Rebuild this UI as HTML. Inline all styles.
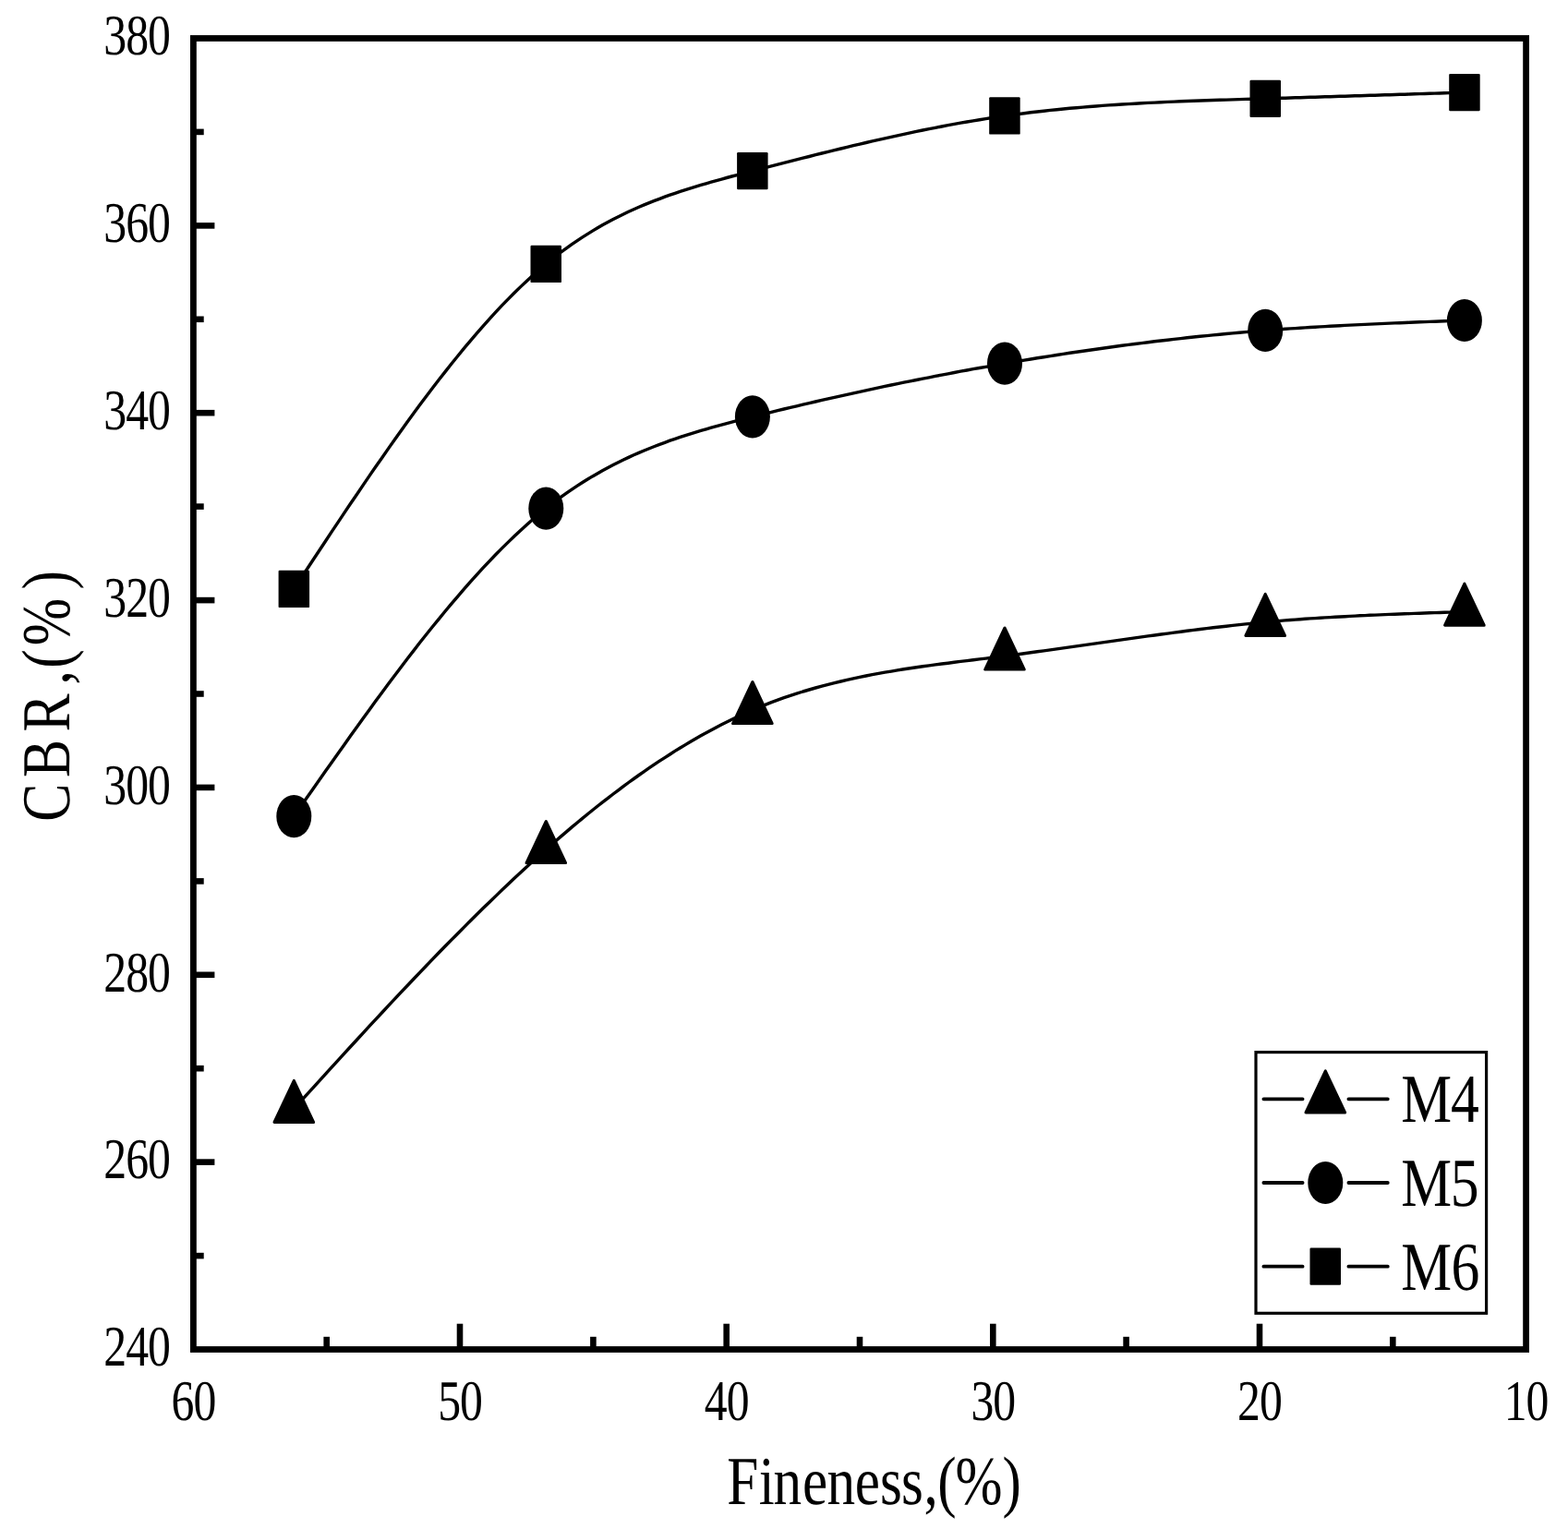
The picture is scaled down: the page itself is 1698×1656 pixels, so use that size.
<!DOCTYPE html>
<html lang="en"><head><meta charset="utf-8"><title>CBR vs Fineness</title>
<style>html,body{margin:0;padding:0;background:#fff;overflow:hidden}svg{display:block}text{font-family:"Liberation Serif","DejaVu Serif",serif;fill:#000;text-rendering:geometricPrecision}</style>
</head><body>
<svg width="1698" height="1656" viewBox="0 0 1698 1656">
<rect x="0" y="0" width="1698" height="1656" fill="#fff"/>
<rect x="209.4" y="41.5" width="1443.2" height="1420.0" fill="none" stroke="#000" stroke-width="6.8"/>
<line x1="209.4" y1="1360.1" x2="220.7" y2="1360.1" stroke="#000" stroke-width="6.6"/>
<line x1="209.4" y1="1258.6" x2="232.4" y2="1258.6" stroke="#000" stroke-width="6.6"/>
<line x1="209.4" y1="1157.2" x2="220.7" y2="1157.2" stroke="#000" stroke-width="6.6"/>
<line x1="209.4" y1="1055.8" x2="232.4" y2="1055.8" stroke="#000" stroke-width="6.6"/>
<line x1="209.4" y1="954.4" x2="220.7" y2="954.4" stroke="#000" stroke-width="6.6"/>
<line x1="209.4" y1="852.9" x2="232.4" y2="852.9" stroke="#000" stroke-width="6.6"/>
<line x1="209.4" y1="751.5" x2="220.7" y2="751.5" stroke="#000" stroke-width="6.6"/>
<line x1="209.4" y1="650.1" x2="232.4" y2="650.1" stroke="#000" stroke-width="6.6"/>
<line x1="209.4" y1="548.6" x2="220.7" y2="548.6" stroke="#000" stroke-width="6.6"/>
<line x1="209.4" y1="447.2" x2="232.4" y2="447.2" stroke="#000" stroke-width="6.6"/>
<line x1="209.4" y1="345.8" x2="220.7" y2="345.8" stroke="#000" stroke-width="6.6"/>
<line x1="209.4" y1="244.4" x2="232.4" y2="244.4" stroke="#000" stroke-width="6.6"/>
<line x1="209.4" y1="142.9" x2="220.7" y2="142.9" stroke="#000" stroke-width="6.6"/>
<line x1="1508.3" y1="1461.5" x2="1508.3" y2="1447.8" stroke="#000" stroke-width="6.6"/>
<line x1="1364.0" y1="1461.5" x2="1364.0" y2="1433.7" stroke="#000" stroke-width="6.6"/>
<line x1="1219.6" y1="1461.5" x2="1219.6" y2="1447.8" stroke="#000" stroke-width="6.6"/>
<line x1="1075.3" y1="1461.5" x2="1075.3" y2="1433.7" stroke="#000" stroke-width="6.6"/>
<line x1="931.0" y1="1461.5" x2="931.0" y2="1447.8" stroke="#000" stroke-width="6.6"/>
<line x1="786.7" y1="1461.5" x2="786.7" y2="1433.7" stroke="#000" stroke-width="6.6"/>
<line x1="642.4" y1="1461.5" x2="642.4" y2="1447.8" stroke="#000" stroke-width="6.6"/>
<line x1="498.0" y1="1461.5" x2="498.0" y2="1433.7" stroke="#000" stroke-width="6.6"/>
<line x1="353.7" y1="1461.5" x2="353.7" y2="1447.8" stroke="#000" stroke-width="6.6"/>
<text transform="translate(0 1479.3) scale(0.8000 1)" font-size="62.20" x="140.38 170.20 200.02" y="0">240</text>
<text transform="translate(0 1276.4) scale(0.8000 1)" font-size="62.20" x="140.38 170.20 200.02" y="0">260</text>
<text transform="translate(0 1073.6) scale(0.8000 1)" font-size="62.20" x="140.38 170.20 200.02" y="0">280</text>
<text transform="translate(0 870.7) scale(0.8000 1)" font-size="62.20" x="140.38 170.20 200.02" y="0">300</text>
<text transform="translate(0 667.9) scale(0.8000 1)" font-size="62.20" x="140.38 170.20 200.02" y="0">320</text>
<text transform="translate(0 465.0) scale(0.8000 1)" font-size="62.20" x="140.38 170.20 200.02" y="0">340</text>
<text transform="translate(0 262.2) scale(0.8000 1)" font-size="62.20" x="140.38 170.20 200.02" y="0">360</text>
<text transform="translate(0 59.3) scale(0.8000 1)" font-size="62.20" x="140.38 170.20 200.02" y="0">380</text>
<text transform="translate(0 1537.9) scale(0.8000 1)" font-size="62.20" x="2035.93 2065.75" y="0">10</text>
<text transform="translate(0 1537.9) scale(0.8000 1)" font-size="62.20" x="1675.13 1704.95" y="0">20</text>
<text transform="translate(0 1537.9) scale(0.8000 1)" font-size="62.20" x="1314.33 1344.15" y="0">30</text>
<text transform="translate(0 1537.9) scale(0.8000 1)" font-size="62.20" x="953.53 983.35" y="0">40</text>
<text transform="translate(0 1537.9) scale(0.8000 1)" font-size="62.20" x="592.73 622.55" y="0">50</text>
<text transform="translate(0 1537.9) scale(0.8000 1)" font-size="62.20" x="231.93 261.75" y="0">60</text>
<text transform="translate(0 1629.0) scale(0.8240 1)" font-size="74.30" x="955.34 997.31 1016.51 1054.52 1086.90 1123.58 1156.66 1184.51 1214.33 1231.97 1255.58 1317.49" y="0">Fineness,(%)</text>
<text transform="translate(75.0 0) rotate(-90) scale(0.8300 1)" font-size="74.30" x="-1072.08 -1014.46 -954.71 -893.36 -871.90 -842.57 -769.35" y="0">CBR,(%)</text>
<path d="M318.3 1200.8 L325.1 1193.3 L331.9 1185.8 L338.8 1178.3 L345.6 1170.8 L352.4 1163.3 L359.2 1155.8 L366.1 1148.4 L372.9 1140.9 L379.7 1133.5 L386.6 1126.0 L393.4 1118.6 L400.2 1111.2 L407.0 1103.9 L413.9 1096.5 L420.7 1089.2 L427.5 1081.9 L434.3 1074.7 L441.1 1067.5 L448.0 1060.3 L454.8 1053.1 L461.6 1046.0 L468.4 1038.9 L475.3 1031.8 L482.1 1024.8 L488.9 1017.9 L495.8 1011.0 L502.6 1004.1 L509.4 997.3 L516.2 990.5 L523.0 983.8 L529.9 977.2 L536.7 970.6 L543.5 964.0 L550.4 957.5 L557.2 951.1 L564.0 944.8 L570.8 938.5 L577.6 932.2 L584.5 926.1 L591.3 920.0 L596.9 915.1 L602.5 910.2 L608.1 905.4 L613.7 900.6 L619.2 895.9 L624.8 891.2 L630.4 886.6 L636.0 882.0 L641.6 877.5 L647.2 873.0 L652.8 868.7 L658.4 864.3 L664.0 860.0 L669.6 855.8 L675.1 851.6 L680.7 847.5 L686.3 843.5 L691.9 839.5 L697.5 835.6 L703.1 831.7 L708.7 827.9 L714.3 824.2 L719.9 820.6 L725.5 817.0 L731.0 813.4 L736.6 810.0 L742.2 806.6 L747.8 803.2 L753.4 800.0 L759.0 796.8 L764.6 793.7 L770.2 790.7 L775.8 787.7 L781.4 784.8 L787.0 782.0 L792.5 779.2 L798.1 776.6 L803.7 774.0 L809.3 771.4 L814.9 769.0 L821.7 766.1 L828.6 763.4 L835.4 760.7 L842.2 758.2 L849.0 755.7 L855.9 753.4 L862.7 751.2 L869.5 749.0 L876.3 747.0 L883.2 745.0 L890.0 743.1 L896.8 741.3 L903.7 739.6 L910.5 738.0 L917.3 736.4 L924.1 734.9 L931.0 733.4 L937.8 732.0 L944.6 730.7 L951.5 729.4 L958.3 728.2 L965.1 727.1 L971.9 725.9 L978.8 724.8 L985.6 723.8 L992.4 722.8 L999.2 721.8 L1006.1 720.9 L1012.9 719.9 L1019.7 719.0 L1026.6 718.2 L1033.4 717.3 L1040.2 716.4 L1047.0 715.6 L1053.9 714.7 L1060.7 713.9 L1067.5 713.1 L1074.3 712.2 L1081.2 711.4 L1088.0 710.5 L1095.1 709.6 L1102.1 708.7 L1109.2 707.7 L1116.2 706.8 L1123.3 705.8 L1130.3 704.9 L1137.4 703.9 L1144.4 702.9 L1151.5 701.9 L1158.5 700.9 L1165.6 699.9 L1172.7 698.9 L1179.7 697.9 L1186.8 696.9 L1193.8 695.9 L1200.9 694.9 L1207.9 693.9 L1215.0 692.9 L1222.0 691.9 L1229.1 690.9 L1236.2 689.9 L1243.2 688.9 L1250.3 688.0 L1257.3 687.0 L1264.4 686.1 L1271.4 685.1 L1278.5 684.2 L1285.5 683.3 L1292.6 682.4 L1299.7 681.5 L1306.7 680.6 L1313.8 679.8 L1320.8 679.0 L1327.9 678.2 L1334.9 677.4 L1342.0 676.6 L1349.0 675.9 L1356.1 675.2 L1363.1 674.5 L1370.2 673.8 L1375.6 673.3 L1381.0 672.8 L1386.4 672.4 L1391.8 671.9 L1397.2 671.5 L1402.6 671.1 L1407.9 670.7 L1413.3 670.3 L1418.7 669.9 L1424.1 669.6 L1429.5 669.2 L1434.9 668.9 L1440.3 668.6 L1445.7 668.3 L1451.1 668.0 L1456.5 667.7 L1461.9 667.4 L1467.3 667.1 L1472.7 666.8 L1478.1 666.6 L1483.4 666.3 L1488.8 666.1 L1494.2 665.9 L1499.6 665.6 L1505.0 665.4 L1510.4 665.2 L1515.8 665.0 L1521.2 664.8 L1526.6 664.6 L1532.0 664.4 L1537.4 664.2 L1542.8 664.0 L1548.2 663.8 L1553.5 663.6 L1558.9 663.5 L1564.3 663.3 L1569.7 663.1 L1575.1 662.9 L1580.5 662.8 L1585.9 662.6" fill="none" stroke="#000" stroke-width="3.4" stroke-linejoin="round"/>
<path d="M318.3 884.1 L325.1 874.3 L331.9 864.6 L338.8 854.8 L345.6 845.1 L352.4 835.3 L359.2 825.7 L366.1 816.0 L372.9 806.4 L379.7 796.8 L386.6 787.3 L393.4 777.8 L400.2 768.4 L407.0 759.0 L413.9 749.7 L420.7 740.5 L427.5 731.4 L434.3 722.4 L441.1 713.4 L448.0 704.6 L454.8 695.8 L461.6 687.2 L468.4 678.7 L475.3 670.3 L482.1 662.0 L488.9 653.8 L495.8 645.8 L502.6 637.9 L509.4 630.2 L516.2 622.6 L523.0 615.2 L529.9 607.9 L536.7 600.8 L543.5 593.9 L550.4 587.1 L557.2 580.6 L564.0 574.2 L570.8 568.0 L577.6 562.0 L584.5 556.3 L591.3 550.7 L596.9 546.3 L602.5 542.0 L608.1 537.9 L613.7 533.9 L619.2 530.1 L624.8 526.4 L630.4 522.8 L636.0 519.3 L641.6 515.9 L647.2 512.7 L652.8 509.5 L658.4 506.5 L664.0 503.6 L669.6 500.7 L675.1 498.0 L680.7 495.4 L686.3 492.8 L691.9 490.4 L697.5 488.0 L703.1 485.7 L708.7 483.5 L714.3 481.3 L719.9 479.3 L725.5 477.2 L731.0 475.3 L736.6 473.4 L742.2 471.6 L747.8 469.8 L753.4 468.1 L759.0 466.4 L764.6 464.8 L770.2 463.2 L775.8 461.6 L781.4 460.1 L787.0 458.6 L792.5 457.1 L798.1 455.7 L803.7 454.2 L809.3 452.8 L814.9 451.4 L821.7 449.7 L828.6 448.0 L835.4 446.3 L842.2 444.7 L849.0 443.0 L855.9 441.4 L862.7 439.8 L869.5 438.2 L876.3 436.6 L883.2 435.0 L890.0 433.4 L896.8 431.8 L903.7 430.3 L910.5 428.8 L917.3 427.3 L924.1 425.8 L931.0 424.3 L937.8 422.8 L944.6 421.3 L951.5 419.9 L958.3 418.4 L965.1 417.0 L971.9 415.6 L978.8 414.2 L985.6 412.8 L992.4 411.5 L999.2 410.1 L1006.1 408.8 L1012.9 407.4 L1019.7 406.1 L1026.6 404.8 L1033.4 403.5 L1040.2 402.2 L1047.0 401.0 L1053.9 399.7 L1060.7 398.5 L1067.5 397.3 L1074.3 396.1 L1081.2 394.9 L1088.0 393.7 L1095.1 392.5 L1102.1 391.3 L1109.2 390.1 L1116.2 389.0 L1123.3 387.8 L1130.3 386.7 L1137.4 385.6 L1144.4 384.5 L1151.5 383.4 L1158.5 382.3 L1165.6 381.3 L1172.7 380.2 L1179.7 379.2 L1186.8 378.2 L1193.8 377.2 L1200.9 376.2 L1207.9 375.3 L1215.0 374.3 L1222.0 373.4 L1229.1 372.5 L1236.2 371.6 L1243.2 370.7 L1250.3 369.8 L1257.3 369.0 L1264.4 368.2 L1271.4 367.4 L1278.5 366.6 L1285.5 365.8 L1292.6 365.0 L1299.7 364.3 L1306.7 363.6 L1313.8 362.9 L1320.8 362.2 L1327.9 361.5 L1334.9 360.9 L1342.0 360.2 L1349.0 359.6 L1356.1 359.0 L1363.1 358.5 L1370.2 357.9 L1375.6 357.5 L1381.0 357.1 L1386.4 356.7 L1391.8 356.3 L1397.2 355.9 L1402.6 355.6 L1407.9 355.2 L1413.3 354.9 L1418.7 354.5 L1424.1 354.2 L1429.5 353.9 L1434.9 353.6 L1440.3 353.3 L1445.7 353.0 L1451.1 352.7 L1456.5 352.4 L1461.9 352.1 L1467.3 351.9 L1472.7 351.6 L1478.1 351.4 L1483.4 351.1 L1488.8 350.9 L1494.2 350.6 L1499.6 350.4 L1505.0 350.1 L1510.4 349.9 L1515.8 349.7 L1521.2 349.5 L1526.6 349.3 L1532.0 349.0 L1537.4 348.8 L1542.8 348.6 L1548.2 348.4 L1553.5 348.2 L1558.9 348.0 L1564.3 347.8 L1569.7 347.6 L1575.1 347.4 L1580.5 347.2 L1585.9 347.0" fill="none" stroke="#000" stroke-width="3.4" stroke-linejoin="round"/>
<path d="M318.3 637.9 L325.1 627.5 L331.9 617.2 L338.8 606.8 L345.6 596.5 L352.4 586.2 L359.2 575.9 L366.1 565.6 L372.9 555.4 L379.7 545.3 L386.6 535.2 L393.4 525.1 L400.2 515.1 L407.0 505.2 L413.9 495.4 L420.7 485.6 L427.5 476.0 L434.3 466.4 L441.1 456.9 L448.0 447.6 L454.8 438.3 L461.6 429.2 L468.4 420.2 L475.3 411.3 L482.1 402.6 L488.9 394.0 L495.8 385.5 L502.6 377.2 L509.4 369.1 L516.2 361.1 L523.0 353.3 L529.9 345.6 L536.7 338.2 L543.5 330.9 L550.4 323.9 L557.2 317.0 L564.0 310.4 L570.8 303.9 L577.6 297.7 L584.5 291.7 L591.3 285.9 L596.9 281.3 L602.5 276.9 L608.1 272.7 L613.7 268.6 L619.2 264.6 L624.8 260.8 L630.4 257.1 L636.0 253.6 L641.6 250.1 L647.2 246.8 L652.8 243.6 L658.4 240.6 L664.0 237.6 L669.6 234.7 L675.1 232.0 L680.7 229.3 L686.3 226.8 L691.9 224.3 L697.5 221.9 L703.1 219.6 L708.7 217.4 L714.3 215.3 L719.9 213.2 L725.5 211.2 L731.0 209.3 L736.6 207.4 L742.2 205.6 L747.8 203.8 L753.4 202.1 L759.0 200.4 L764.6 198.8 L770.2 197.2 L775.8 195.6 L781.4 194.1 L787.0 192.5 L792.5 191.0 L798.1 189.6 L803.7 188.1 L809.3 186.6 L814.9 185.2 L821.7 183.4 L828.6 181.7 L835.4 179.9 L842.2 178.1 L849.0 176.4 L855.9 174.6 L862.7 172.9 L869.5 171.2 L876.3 169.5 L883.2 167.7 L890.0 166.0 L896.8 164.4 L903.7 162.7 L910.5 161.0 L917.3 159.4 L924.1 157.7 L931.0 156.1 L937.8 154.5 L944.6 152.9 L951.5 151.4 L958.3 149.8 L965.1 148.3 L971.9 146.8 L978.8 145.3 L985.6 143.9 L992.4 142.4 L999.2 141.0 L1006.1 139.7 L1012.9 138.3 L1019.7 137.0 L1026.6 135.7 L1033.4 134.4 L1040.2 133.2 L1047.0 132.0 L1053.9 130.8 L1060.7 129.7 L1067.5 128.6 L1074.3 127.5 L1081.2 126.5 L1088.0 125.5 L1095.1 124.5 L1102.1 123.6 L1109.2 122.7 L1116.2 121.8 L1123.3 121.0 L1130.3 120.2 L1137.4 119.4 L1144.4 118.7 L1151.5 118.0 L1158.5 117.3 L1165.6 116.7 L1172.7 116.1 L1179.7 115.5 L1186.8 115.0 L1193.8 114.4 L1200.9 113.9 L1207.9 113.5 L1215.0 113.0 L1222.0 112.6 L1229.1 112.2 L1236.2 111.8 L1243.2 111.4 L1250.3 111.1 L1257.3 110.7 L1264.4 110.4 L1271.4 110.1 L1278.5 109.8 L1285.5 109.5 L1292.6 109.3 L1299.7 109.0 L1306.7 108.8 L1313.8 108.5 L1320.8 108.3 L1327.9 108.1 L1334.9 107.9 L1342.0 107.6 L1349.0 107.4 L1356.1 107.2 L1363.1 107.0 L1370.2 106.8 L1375.6 106.6 L1381.0 106.5 L1386.4 106.3 L1391.8 106.2 L1397.2 106.0 L1402.6 105.8 L1407.9 105.7 L1413.3 105.5 L1418.7 105.3 L1424.1 105.2 L1429.5 105.0 L1434.9 104.8 L1440.3 104.7 L1445.7 104.5 L1451.1 104.3 L1456.5 104.2 L1461.9 104.0 L1467.3 103.8 L1472.7 103.7 L1478.1 103.5 L1483.4 103.3 L1488.8 103.2 L1494.2 103.0 L1499.6 102.8 L1505.0 102.7 L1510.4 102.5 L1515.8 102.3 L1521.2 102.2 L1526.6 102.0 L1532.0 101.8 L1537.4 101.6 L1542.8 101.5 L1548.2 101.3 L1553.5 101.1 L1558.9 101.0 L1564.3 100.8 L1569.7 100.6 L1575.1 100.4 L1580.5 100.3 L1585.9 100.1" fill="none" stroke="#000" stroke-width="3.4" stroke-linejoin="round"/>
<rect x="301.6" y="617.8" width="33.5" height="40.3" rx="1.2" fill="#000"/>
<rect x="574.5" y="265.8" width="33.5" height="40.3" rx="1.2" fill="#000"/>
<rect x="798.1" y="165.0" width="33.5" height="40.3" rx="1.2" fill="#000"/>
<rect x="1071.2" y="105.3" width="33.5" height="40.3" rx="1.2" fill="#000"/>
<rect x="1353.5" y="86.7" width="33.5" height="40.3" rx="1.2" fill="#000"/>
<rect x="1569.2" y="79.9" width="33.5" height="40.3" rx="1.2" fill="#000"/>
<ellipse cx="318.3" cy="884.1" rx="19" ry="23.1" fill="#000"/>
<ellipse cx="591.3" cy="550.7" rx="19" ry="23.1" fill="#000"/>
<ellipse cx="814.9" cy="451.4" rx="19" ry="23.1" fill="#000"/>
<ellipse cx="1088.0" cy="393.7" rx="19" ry="23.1" fill="#000"/>
<ellipse cx="1370.2" cy="357.9" rx="19" ry="23.1" fill="#000"/>
<ellipse cx="1585.9" cy="347.0" rx="19" ry="23.1" fill="#000"/>
<polygon points="318.3,1170.3 297.0,1215.4 339.6,1215.4" fill="#000" stroke="#000" stroke-width="3" stroke-linejoin="round"/>
<polygon points="591.3,889.5 570.0,934.6 612.6,934.6" fill="#000" stroke="#000" stroke-width="3" stroke-linejoin="round"/>
<polygon points="814.9,738.5 793.6,783.6 836.2,783.6" fill="#000" stroke="#000" stroke-width="3" stroke-linejoin="round"/>
<polygon points="1088.0,680.0 1066.7,725.1 1109.3,725.1" fill="#000" stroke="#000" stroke-width="3" stroke-linejoin="round"/>
<polygon points="1370.2,643.3 1348.9,688.4 1391.5,688.4" fill="#000" stroke="#000" stroke-width="3" stroke-linejoin="round"/>
<polygon points="1585.9,632.1 1564.6,677.2 1607.2,677.2" fill="#000" stroke="#000" stroke-width="3" stroke-linejoin="round"/>
<rect x="1360" y="1139.6" width="249.6" height="282.7" fill="#fff" stroke="#000" stroke-width="3.2"/>
<path d="M1368.4 1190.3 H1410.6 M1460.4 1190.3 H1502.8" fill="none" stroke="#000" stroke-width="3.8" stroke-linecap="round"/>
<polygon points="1435.3,1159.8 1414.0,1204.9 1456.6,1204.9" fill="#000" stroke="#000" stroke-width="3" stroke-linejoin="round"/>
<text transform="translate(0 1215.2) scale(0.8300 1)" font-size="74.30" x="1828.07 1892.91" y="0">M4</text>
<path d="M1368.4 1281.0 H1410.6 M1460.4 1281.0 H1502.8" fill="none" stroke="#000" stroke-width="3.8" stroke-linecap="round"/>
<ellipse cx="1435.3" cy="1281.0" rx="19" ry="23.1" fill="#000"/>
<text transform="translate(0 1305.9) scale(0.8300 1)" font-size="74.30" x="1828.07 1892.52" y="0">M5</text>
<path d="M1368.4 1371.7 H1410.6 M1460.4 1371.7 H1502.8" fill="none" stroke="#000" stroke-width="3.8" stroke-linecap="round"/>
<rect x="1418.5" y="1351.5" width="33.5" height="40.3" rx="1.2" fill="#000"/>
<text transform="translate(0 1396.6) scale(0.8300 1)" font-size="74.30" x="1828.07 1893.28" y="0">M6</text>
</svg></body></html>
